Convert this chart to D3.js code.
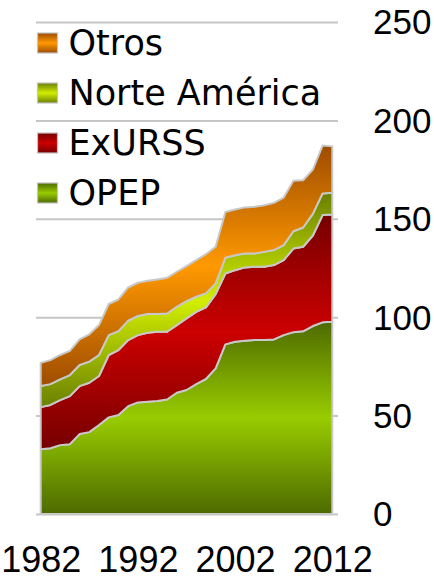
<!DOCTYPE html>
<html>
<head>
<meta charset="utf-8">
<script src="https://cdn.jsdelivr.net/npm/d3@7"></script>
<style>
  html, body { margin: 0; padding: 0; background: #fff; }
  svg { display: block; }
  .axis-label { font-family: "Liberation Sans", Arial, sans-serif; fill: #000; }
  .legend-label { font-family: "DejaVu Sans", sans-serif; font-size: 35px; fill: #000; }
</style>
</head>
<body>
<svg id="chart" width="434" height="579"></svg>
<script>
// Stacked production areas, 1982-2012. Values.

const years = d3.range(1982, 2013);

const opep = [
  32.9, 33.4, 35.0, 35.5, 40.6, 41.6, 45.2, 49.1, 50.3, 54.8,
  56.7, 57.0, 57.4, 58.2, 61.6, 63.0, 66.0, 68.6, 74.0, 86.2,
  87.5, 88.0, 88.4, 88.4, 88.7, 90.9, 92.4, 92.8, 95.5, 97.4, 97.7
];
const exUrss = [
  21.4, 22.0, 22.9, 24.4, 24.4, 25.1, 24.9, 31.7, 33.0, 33.6,
  34.2, 35.1, 35.2, 34.4, 34.4, 36.4, 36.7, 36.4, 37.7, 36.0,
  36.4, 37.3, 37.2, 37.2, 37.8, 38.1, 42.5, 43.0, 46.0, 54.5, 54.5
];
const norteAmerica = [
  10.7, 10.6, 10.5, 10.7, 10.7, 10.7, 10.7, 10.1, 9.6, 9.8,
  9.7, 9.5, 9.0, 9.3, 9.3, 8.8, 7.7, 7.1, 5.5, 8.0,
  7.6, 7.1, 6.8, 7.6, 7.6, 7.6, 8.8, 9.8, 11.0, 11.0, 11.0
];
const otros = [
  11.8, 12.2, 12.4, 12.3, 13.0, 13.9, 15.2, 15.8, 16.1, 16.9,
  16.9, 16.9, 17.6, 18.1, 17.8, 17.8, 18.6, 19.9, 18.6, 23.3,
  23.2, 23.4, 23.7, 23.7, 24.0, 24.2, 25.6, 24.0, 22.5, 24.3, 23.6
];

// bottom to top in the stack
const seriesKeys = ["opep", "exUrss", "norteAmerica", "otros"];
const seriesNames = ["OPEP", "ExURSS", "Norte América", "Otros"];
const seriesValues = [opep, exUrss, norteAmerica, otros];
// [dark edge, bright centre]
const seriesColors = [
  ["#4d6a00", "#99cc00"],
  ["#760000", "#cc0000"],
  ["#6b8000", "#d2ef00"],
  ["#9e4c00", "#ff9900"]
];

const yTicks = [0, 50, 100, 150, 200, 250];
const xTicks = [1982, 1992, 2002, 2012];
const legendOrder = ["otros", "norteAmerica", "exUrss", "opep"];

const svg = d3.select("#chart");

const gridLeft = 36;
const gridRight = 338;
const plotLeft = 40.7;
const plotRight = 332.3;
const plotTop = 22;
const plotBottom = 514;

const x = d3.scaleLinear().domain([1982, 2012]).range([plotLeft, plotRight]);
const y = d3.scaleLinear().domain([0, 250]).range([plotBottom, plotTop]);

// gradients: dark at the top and bottom of each shape, bright in the middle
const defs = svg.append("defs");
seriesKeys.forEach((key, i) => {
  const [dark, bright] = seriesColors[i];
  const grad = defs.append("linearGradient")
    .attr("id", `grad-${key}`)
    .attr("x1", 0).attr("y1", 0).attr("x2", 0).attr("y2", 1);
  grad.append("stop").attr("offset", "0").attr("stop-color", dark);
  grad.append("stop").attr("offset", "0.5").attr("stop-color", bright);
  grad.append("stop").attr("offset", "1").attr("stop-color", dark);
});

// grid + right-hand labels
const yAxis = d3.axisRight(y)
  .tickValues(yTicks)
  .tickSizeInner(-(gridRight - gridLeft))
  .tickSizeOuter(0)
  .tickPadding(35)
  .tickFormat(d3.format("d"));

const yAxisG = svg.append("g")
  .attr("transform", `translate(${gridRight},0)`)
  .call(yAxis);
yAxisG.select(".domain").remove();
yAxisG.selectAll(".tick line").attr("stroke", "#c6c6c6").attr("stroke-width", 2);
yAxisG.selectAll(".tick text")
  .attr("class", "axis-label")
  .attr("font-size", 35)
  .attr("dy", "0.34em")
  .attr("font-family", null);

const table = years.map((yr, i) => {
  const row = { year: yr };
  seriesKeys.forEach((key, k) => { row[key] = seriesValues[k][i]; });
  return row;
});

const stacked = d3.stack().keys(seriesKeys)(table);

const areaGen = d3.area()
  .x((d) => x(d.data.year))
  .y0((d) => y(d[0]))
  .y1((d) => y(d[1]));

svg.append("g")
  .selectAll("path")
  .data(stacked)
  .join("path")
  .attr("d", areaGen)
  .attr("fill", (d) => `url(#grad-${d.key})`)
  .attr("stroke", "#c8c8c8")
  .attr("stroke-width", 2)
  .attr("stroke-linejoin", "round");

// bottom labels
const xAxis = d3.axisBottom(x)
  .tickValues(xTicks)
  .tickSize(0)
  .tickFormat(d3.format("d"));

const xAxisG = svg.append("g")
  .attr("transform", `translate(0,${plotBottom})`)
  .call(xAxis);
xAxisG.select(".domain").remove();
xAxisG.selectAll(".tick text")
  .attr("class", "axis-label")
  .attr("font-size", 36)
  .attr("font-family", null)
  .attr("y", 58)
  .attr("dy", 0);

// legend
const legendX = 37.5;
const legendY0 = 43;
const legendStep = 50;
const box = 20;

const legend = svg.append("g")
  .selectAll("g")
  .data(legendOrder)
  .join("g")
  .attr("transform", (d, i) => `translate(${legendX},${legendY0 + i * legendStep})`);

legend.append("rect")
  .attr("x", 0)
  .attr("y", -box / 2)
  .attr("width", box)
  .attr("height", box)
  .attr("fill", (d) => `url(#grad-${d})`)
  .attr("stroke", "#c4c4c4")
  .attr("stroke-width", 1.2);

legend.append("text")
  .attr("class", "legend-label")
  .attr("x", 31)
  .attr("y", 11.5)
  .text((d) => seriesNames[seriesKeys.indexOf(d)]);
</script>
</body>
</html>
